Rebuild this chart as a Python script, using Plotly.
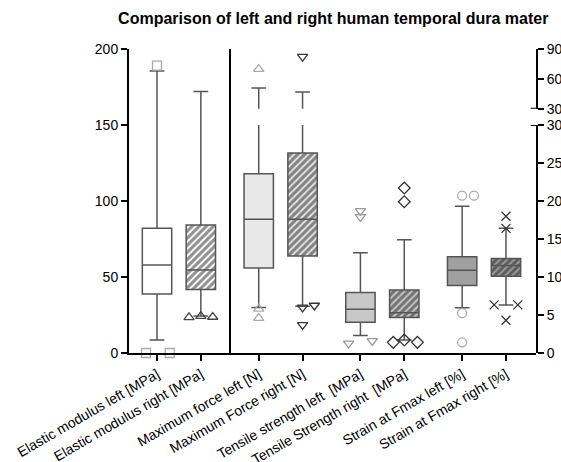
import plotly.graph_objects as go

# ---------------- data ----------------
labels = ["Elastic modulus left [MPa]", "Elastic modulus right [MPa]",
          "Maximum force left [N]", "Maximum Force right [N]",
          "Tensile strength left \u00a0[MPa]", "Tensile Strength right \u00a0[MPa]",
          "Strain at Fmax left [%]", "Strain at Fmax right [%]"]
positions = [0, 1, 2.32, 3.32, 4.64, 5.64, 6.96, 7.96]
# first two on left axis (MPa), rest on right (broken) axis
lower = [8.5, 24.3, 6.0, 6.16, 2.3, 1.7, 5.94, 6.33]
q1 = [38.8, 41.7, 11.2, 12.75, 4.06, 4.68, 8.87, 10.1]
median = [57.9, 54.6, 17.6, 17.6, 5.77, 5.28, 10.9, 11.5]
q3 = [82.0, 84.2, 23.6, 26.3, 7.95, 8.3, 12.67, 12.45]
upper = [185.5, 172.0, 50.8, 46.8, 13.2, 14.9, 19.3, 16.4]
outliers = [[189, 0, 0], [23.5, 24.3, 23.7], [69.8, 5.8, 4.6], [82.3, 6.0, 6.25, 3.7],
            [18.7, 17.9, 1.27, 1.6], [21.7, 19.9, 1.4, 1.7, 1.4],
            [20.7, 20.7, 5.24, 1.4], [18.0, 16.4, 6.33, 6.33, 4.3]]
outlier_jitter = [[0, -0.25, 0.29], [-0.27, 0, 0.27], [0, 0, 0], [0, 0, 0.27, 0],
                  [0, 0, -0.27, 0.27], [0, 0, -0.25, 0, 0.3],
                  [0, 0.27, 0, 0], [0, 0, -0.27, 0.27, 0]]

# ---------------- styles ----------------
fills = ["#ffffff", "#ffffff", "#e8e8e8", "#e2e2e2", "#c8c8c8", "#c4c4c4", "#a0a0a0", "#9a9a9a"]
hatched = [False, True, False, True, False, True, False, True]
symbols = ["square-open", "triangle-up-open", "triangle-up-open", "triangle-down-open",
           "triangle-down-open", "diamond-open", "circle-open", "x-thin-open"]
mcolors = ["#aaaaaa", "#444444", "#aaaaaa", "#333333", "#999999", "#333333", "#aaaaaa", "#333333"]
line_col = "#555555"
BW = 0.67
FONT = "Liberation Sans, Arial, sans-serif"

fig = go.Figure()

for i in range(8):
    axes = ["y"] if i < 2 else (["y2", "y3"] if upper[i] > 30 else ["y2"])
    for ax in axes:
        if hatched[i] and ax != "y3":
            fig.add_trace(go.Bar(
                x=[positions[i]], y=[q3[i] - q1[i]], base=[q1[i]], width=BW, yaxis=ax,
                marker=dict(color=fills[i], line=dict(width=0),
                            pattern=dict(shape="/", fgcolor="#222222", bgcolor=fills[i],
                                         size=5, solidity=0.6)),
                showlegend=False, hoverinfo="skip"))
        fig.add_trace(go.Box(
            x=[positions[i]], q1=[q1[i]], median=[median[i]], q3=[q3[i]],
            lowerfence=[lower[i]], upperfence=[upper[i]], width=BW, whiskerwidth=0.5,
            fillcolor="rgba(0,0,0,0)" if hatched[i] else fills[i],
            line=dict(color=line_col, width=1.5), boxpoints=False,
            yaxis=ax, showlegend=False))
    # outliers
    for ax, cond in ([("y", lambda v: True)] if i < 2 else
                     [("y2", lambda v: v <= 30), ("y3", lambda v: v > 30)]):
        xs = [positions[i] + j for v, j in zip(outliers[i], outlier_jitter[i]) if cond(v)]
        ys = [v for v in outliers[i] if cond(v)]
        if ys:
            fig.add_trace(go.Scatter(
                x=xs, y=ys, mode="markers", yaxis=ax, cliponaxis=False,
                marker=dict(symbol=symbols[i], size=9, color=mcolors[i],
                            line=dict(color=mcolors[i], width=1.3)),
                showlegend=False, hoverinfo="skip"))

sep_x = (positions[1] + positions[2]) / 2 + 0.005
axis_common = dict(showline=True, linecolor="black", linewidth=2, ticks="outside",
                   ticklen=6, tickwidth=2, tickcolor="black", showgrid=False,
                   zeroline=False, automargin=False,
                   tickfont=dict(family=FONT, size=14, color="black"))

fig.update_layout(
    width=561, height=462,
    margin=dict(l=129, r=25, t=49, b=109),
    paper_bgcolor="white", plot_bgcolor="rgba(0,0,0,0)",
    barmode="overlay", boxmode="overlay",
    font=dict(family=FONT, color="black"),
    title=dict(text="<b>Comparison of left and right human temporal dura mater</b>",
               font=dict(family=FONT, size=16, color="black"),
               x=0.594, xref="container", xanchor="center",
               y=1 - 18 / 462, yref="container", yanchor="middle"),
    xaxis=dict(range=[-0.639, 8.645], tickvals=positions, ticktext=labels,
               tickangle=-30, anchor="y", **axis_common),
    yaxis=dict(range=[0, 200], domain=[0, 1], tickvals=[0, 50, 100, 150, 200],
               anchor="x", **axis_common),
    yaxis2=dict(range=[0, 30], domain=[0, 0.75], side="right", anchor="x",
                tickvals=[0, 5, 10, 15, 20, 25, 30], **axis_common),
    yaxis3=dict(range=[30, 90], domain=[0.8035, 1], side="right", anchor="x",
                tickvals=[30, 60, 90], **axis_common),
    shapes=[
        dict(type="line", xref="x", yref="paper", x0=sep_x, x1=sep_x, y0=0, y1=1,
             line=dict(color="black", width=2)),
        dict(type="line", xref="paper", yref="y2", x0=0.987, x1=1.0, y0=30, y1=30,
             line=dict(color="black", width=2)),
        dict(type="line", xref="paper", yref="y3", x0=0.987, x1=1.0, y0=30, y1=30,
             line=dict(color="black", width=2)),
    ],
)

fig.write_html("out.html")
